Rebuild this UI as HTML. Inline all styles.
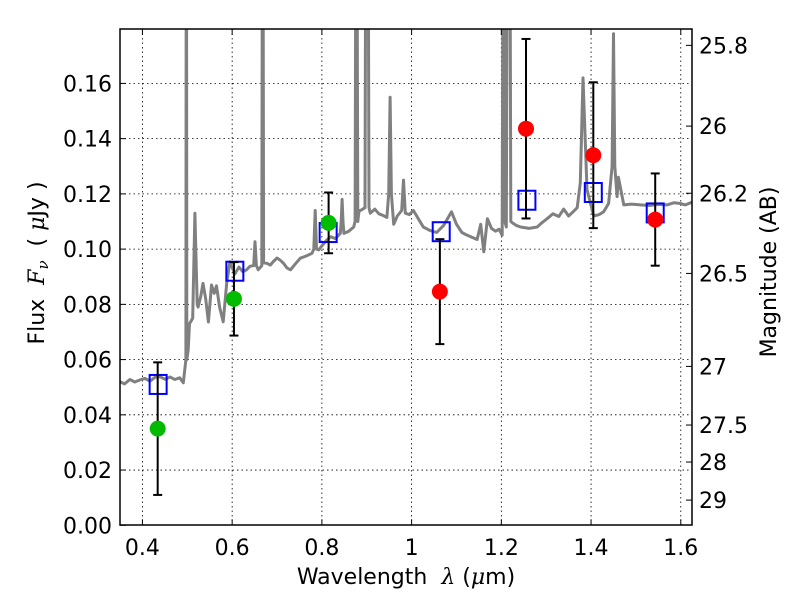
<!DOCTYPE html>
<html><head><meta charset="utf-8"><style>
html,body{margin:0;padding:0;background:#fff;}
svg{display:block;font-family:"DejaVu Sans","Liberation Sans",sans-serif;}
</style></head><body>
<svg id="chart" width="800" height="600" viewBox="0 0 800 600" xmlns="http://www.w3.org/2000/svg">
<rect x="0" y="0" width="800" height="600" fill="#fff"/>
<defs><clipPath id="clip"><rect x="120" y="29" width="572" height="496"/></clipPath></defs>
<g id="grid"></g>
<g id="spec" clip-path="url(#clip)"></g>
<g id="marks" clip-path="url(#clip)"></g>
<rect x="120" y="29" width="572" height="496" fill="none" stroke="#000" stroke-width="1.5"/>
<g id="axes"></g>
<text x="406" y="584" font-size="22" text-anchor="middle">Wavelength&#160;&#160;<tspan font-style="italic" font-family="DejaVu Serif,serif">λ</tspan> (<tspan font-style="italic" font-family="DejaVu Serif,serif">μ</tspan>m)</text>
<text transform="translate(44,263) rotate(-90)" font-size="22" text-anchor="middle">Flux&#160;&#160;<tspan font-style="italic" font-family="DejaVu Serif,serif">F</tspan><tspan font-style="italic" font-family="DejaVu Serif,serif" font-size="15" dy="4">ν</tspan><tspan dy="-4">&#160;&#160;(&#160;</tspan><tspan font-style="italic" font-family="DejaVu Serif,serif">μ</tspan>Jy&#160;)</text>
<text transform="translate(776,272) rotate(-90)" font-size="22" text-anchor="middle">Magnitude (AB)</text>
</svg>
<script>
const xTicks=[0.4,0.6,0.8,1.0,1.2,1.4,1.6];
const xTickLabels=["0.4","0.6","0.8","1","1.2","1.4","1.6"];
const yTicks=[0,0.02,0.04,0.06,0.08,0.10,0.12,0.14,0.16];
const yTickLabels=["0.00","0.02","0.04","0.06","0.08","0.10","0.12","0.14","0.16"];
const magTicks=[25.8,26,26.2,26.5,27,27.5,28,29];
const magTickLabels=["25.8","26","26.2","26.5","27","27.5","28","29"];
const specWave=[0.35,0.36,0.372,0.383,0.394,0.405,0.417,0.428,0.439,0.45,0.462,0.472,0.483,0.491,0.497,0.498,0.499,0.502,0.505,0.512,0.517,0.522,0.524,0.53,0.535,0.541,0.547,0.554,0.56,0.565,0.572,0.58,0.588,0.595,0.606,0.615,0.624,0.632,0.64,0.648,0.651,0.654,0.658,0.666,0.668,0.670,0.677,0.685,0.692,0.7,0.707,0.715,0.722,0.73,0.74,0.752,0.765,0.778,0.782,0.785,0.788,0.793,0.8,0.811,0.82,0.83,0.841,0.843,0.845,0.847,0.849,0.86,0.871,0.874,0.877,0.880,0.883,0.886,0.896,0.899,0.902,0.905,0.908,0.918,0.927,0.936,0.945,0.949,0.952,0.955,0.96,0.968,0.978,0.982,0.986,0.995,1.004,1.015,1.026,1.04,1.056,1.063,1.071,1.08,1.089,1.1,1.112,1.122,1.133,1.146,1.154,1.161,1.169,1.178,1.187,1.195,1.202,1.205,1.208,1.211,1.215,1.218,1.221,1.225,1.234,1.243,1.262,1.28,1.29,1.302,1.315,1.328,1.339,1.35,1.36,1.369,1.376,1.382,1.391,1.406,1.418,1.428,1.439,1.447,1.45,1.453,1.458,1.461,1.473,1.49,1.51,1.53,1.55,1.569,1.585,1.599,1.61,1.625,1.644];
const specFlux=[0.052,0.0512,0.0528,0.0519,0.0526,0.0532,0.0522,0.0536,0.0538,0.0529,0.0537,0.0528,0.0534,0.0516,0.06,0.30,0.06,0.0635,0.073,0.075,0.113,0.08,0.079,0.083,0.0876,0.082,0.0736,0.087,0.084,0.0867,0.079,0.0737,0.088,0.0954,0.091,0.0935,0.0918,0.0925,0.0938,0.094,0.1027,0.094,0.0925,0.094,0.30,0.095,0.0949,0.0942,0.0955,0.0968,0.096,0.0948,0.0932,0.0925,0.0945,0.0967,0.0975,0.0985,0.1,0.114,0.1,0.0997,0.1012,0.1033,0.1045,0.1038,0.1057,0.11,0.118,0.11,0.1057,0.1065,0.108,0.11,0.30,0.11,0.114,0.114,0.115,0.30,0.30,0.115,0.113,0.1145,0.1128,0.1122,0.1115,0.12,0.155,0.12,0.109,0.112,0.114,0.125,0.113,0.1125,0.114,0.111,0.108,0.1068,0.106,0.1072,0.1085,0.111,0.1135,0.109,0.106,0.1052,0.1044,0.1035,0.109,0.099,0.111,0.1075,0.1065,0.1072,0.105,0.30,0.11,0.108,0.30,0.30,0.11,0.1095,0.1085,0.108,0.1075,0.108,0.1095,0.111,0.1128,0.1118,0.1145,0.112,0.1135,0.115,0.124,0.162,0.1215,0.112,0.1125,0.1135,0.1165,0.13,0.178,0.13,0.119,0.126,0.116,0.1163,0.116,0.1158,0.1162,0.116,0.1168,0.1165,0.116,0.117,0.1165];
const sqWave=[0.435,0.606,0.814,1.066,1.257,1.405,1.543];
const sqFlux=[0.051,0.092,0.106,0.1063,0.1177,0.1205,0.1131];
const greenWave=[0.434,0.604,0.815];
const greenFlux=[0.035,0.082,0.1095];
const greenErr=[0.024,0.0133,0.011];
const redWave=[1.063,1.255,1.405,1.543];
const redFlux=[0.0846,0.1436,0.134,0.1107];
const redErr=[0.019,0.0325,0.0264,0.0167];

const NS="http://www.w3.org/2000/svg";
const X0=120,X1=692,Y0=525.3,Y1=29;
const xMin=0.35,xMax=1.625,yMin=0,yMax=0.1797;
function xs(v){return X0+(v-xMin)/(xMax-xMin)*(X1-X0);}
function ys(v){return Y0-(v-yMin)/(yMax-yMin)*(Y0-Y1);}
function magToFlux(m){return Math.pow(10,(23.9-m)/2.5);}
function mk(tag,attrs,parent){const e=document.createElementNS(NS,tag);for(const k in attrs)e.setAttribute(k,attrs[k]);parent.appendChild(e);return e;}
const grid=document.getElementById('grid'),axes=document.getElementById('axes'),spec=document.getElementById('spec'),marks=document.getElementById('marks');

xTicks.forEach((t,i)=>{const x=xs(t);
 const g=mk('line',{x1:x,x2:x,y1:Y1,y2:Y0,stroke:'#000','stroke-width':0.8,'stroke-dasharray':'1.5,3'},grid);
 
 const t1=mk('line',{x1:x,x2:x,y1:Y0,y2:Y0-6,stroke:'#000','stroke-width':1},axes);
 
 const t2=mk('line',{x1:x,x2:x,y1:Y1,y2:Y1+6,stroke:'#000','stroke-width':1},axes);
 
 const l=mk('text',{x:x,y:555,'font-size':22,'text-anchor':'middle'},axes);l.textContent=xTickLabels[i];
 
});
yTicks.forEach((t,i)=>{const y=ys(t);
 if(i>0){const g=mk('line',{x1:X0,x2:X1,y1:y,y2:y,stroke:'#000','stroke-width':0.8,'stroke-dasharray':'1.5,3'},grid);
 }
 const t1=mk('line',{x1:X0,x2:X0+6,y1:y,y2:y,stroke:'#000','stroke-width':1},axes);
 
 const l=mk('text',{x:112,y:y+8,'font-size':22,'text-anchor':'end'},axes);l.textContent=yTickLabels[i];
 
});
magTicks.forEach((m,i)=>{const y=ys(magToFlux(m));
 const t1=mk('line',{x1:X1,x2:X1-6,y1:y,y2:y,stroke:'#000','stroke-width':1},axes);
 
 const l=mk('text',{x:699,y:y+8,'font-size':22,'text-anchor':'start'},axes);l.textContent=magTickLabels[i];
 
});
const pts=specWave.map((w,i)=>xs(w).toFixed(1)+','+ys(specFlux[i]).toFixed(1)).join(' ');
const pl=mk('polyline',{points:pts,fill:'none',stroke:'#808080','stroke-width':3,'stroke-linejoin':'round'},spec);


sqWave.forEach((w,i)=>{const x=xs(w),y=ys(sqFlux[i]);
 const r=mk('rect',{x:x-8.5,y:y-9.5,width:17,height:19,fill:'none',stroke:'#0000ff','stroke-width':2},marks);
 
});
function drawErr(wave,flux,err,color,name){
 wave.forEach((w,i)=>{const x=xs(w),yt=ys(flux[i]+err[i]),yb=ys(flux[i]-err[i]);
  const g=mk('g',{},marks);
  
  mk('line',{x1:x,x2:x,y1:yt,y2:yb,stroke:'#000','stroke-width':2},g);
  mk('line',{x1:x-4.5,x2:x+4.5,y1:yt,y2:yt,stroke:'#000','stroke-width':2},g);
  mk('line',{x1:x-4.5,x2:x+4.5,y1:yb,y2:yb,stroke:'#000','stroke-width':2},g);
  const c=mk('circle',{cx:x,cy:ys(flux[i]),r:8,fill:color},marks);
  
 });
}
drawErr(greenWave,greenFlux,greenErr,'#00bb00','green');
drawErr(redWave,redFlux,redErr,'#ff0000','red');
</script>
</body></html>
